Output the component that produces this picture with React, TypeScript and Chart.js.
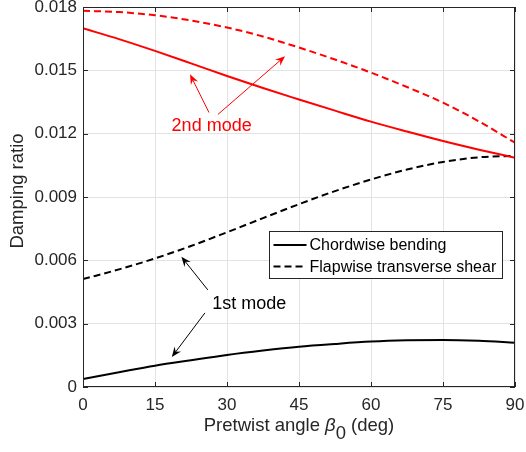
import React, { useEffect, useRef } from "react";
import { Chart, registerables } from "chart.js";

Chart.register(...registerables);

const angles = [0, 7.5, 15, 22.5, 30, 37.5, 45, 52.5, 60, 67.5, 75, 82.5, 90];
const chordwise2nd = [0.01699, 0.01648, 0.01592, 0.01533, 0.01473, 0.01416, 0.01362, 0.01309, 0.01257, 0.0121, 0.01165, 0.01124, 0.01086];
const flapwise2nd = [0.01782, 0.01776, 0.01761, 0.01736, 0.01703, 0.0166, 0.01608, 0.01551, 0.01489, 0.01421, 0.01347, 0.01258, 0.01157];
const flapwise1st = [0.00511, 0.00557, 0.00609, 0.00668, 0.00733, 0.008, 0.00866, 0.00928, 0.00983, 0.0103, 0.01066, 0.01088, 0.01095];
const chordwise1st = [0.00038, 0.0007, 0.00101, 0.00127, 0.00152, 0.00173, 0.00191, 0.00204, 0.00215, 0.00221, 0.00223, 0.00219, 0.0021];

const xTicks = [0, 15, 30, 45, 60, 75, 90];
const yTicks = [0, 0.003, 0.006, 0.009, 0.012, 0.015, 0.018];
const legendLabels = ["Chordwise bending", "Flapwise transverse shear"];

// annotation text and arrows in data coordinates
const mode2Label = { text: "2nd mode", x: 26.8, y: 0.01238 };
const mode2Arrows = [
  { x0: 26.25, y0: 0.0130, x1: 22.3, y1: 0.01481 },
  { x0: 28.1, y0: 0.01291, x1: 42.1, y1: 0.01567 },
];
const mode1Label = { text: "1st mode", x: 34.65, y: 0.00394 };
const mode1Arrows = [
  { x0: 26.0, y0: 0.0046, x1: 20.5, y1: 0.00617 },
  { x0: 25.4, y0: 0.00351, x1: 18.5, y1: 0.00142 },
];

const FONT = "'Liberation Sans', Arial, Helvetica, sans-serif";
const AXIS_COLOR = "#262626";

function toPts(ys: number[]) {
  return angles.map((x, i) => ({ x, y: ys[i] }));
}

function drawArrow(ctx: CanvasRenderingContext2D, x0: number, y0: number, x1: number, y1: number, color: string) {
  const ang = Math.atan2(y1 - y0, x1 - x0);
  const len = 10;
  const w = 4;
  ctx.save();
  ctx.strokeStyle = color;
  ctx.fillStyle = color;
  ctx.lineWidth = 1;
  ctx.beginPath();
  ctx.moveTo(x0, y0);
  ctx.lineTo(x1 - Math.cos(ang) * 4, y1 - Math.sin(ang) * 4);
  ctx.stroke();
  const bx = x1 - Math.cos(ang) * len;
  const by = y1 - Math.sin(ang) * len;
  const nx = -Math.sin(ang);
  const ny = Math.cos(ang);
  const mx = x1 - Math.cos(ang) * len * 0.65;
  const my = y1 - Math.sin(ang) * len * 0.65;
  ctx.beginPath();
  ctx.moveTo(x1, y1);
  ctx.lineTo(bx + nx * w, by + ny * w);
  ctx.lineTo(mx, my);
  ctx.lineTo(bx - nx * w, by - ny * w);
  ctx.closePath();
  ctx.fill();
  ctx.restore();
}

const overlayPlugin = {
  id: "overlay",
  afterDraw(chart: any) {
    const ctx: CanvasRenderingContext2D = chart.ctx;
    const { left, right, top, bottom } = chart.chartArea;
    const xs = chart.scales.x;
    const ys = chart.scales.y;
    ctx.save();
    // box
    ctx.strokeStyle = AXIS_COLOR;
    ctx.lineWidth = 1;
    ctx.strokeRect(Math.round(left) + 0.5, Math.round(top) + 0.5, Math.round(right - left) - 1, Math.round(bottom - top) - 1);
    // inward ticks
    const tl = 5;
    ctx.beginPath();
    xTicks.forEach((v) => {
      const px = Math.round(xs.getPixelForValue(v)) + 0.5;
      ctx.moveTo(px, bottom);
      ctx.lineTo(px, bottom - tl);
      ctx.moveTo(px, top);
      ctx.lineTo(px, top + tl);
    });
    yTicks.forEach((v) => {
      const py = Math.round(ys.getPixelForValue(v)) + 0.5;
      ctx.moveTo(left, py);
      ctx.lineTo(left + tl, py);
      ctx.moveTo(right, py);
      ctx.lineTo(right - tl, py);
    });
    ctx.stroke();

    // x title with italic beta and subscript
    const fs = 18.5;
    const p1 = "Pretwist angle ";
    const p2 = "\u03B2";
    const p3 = "0";
    const p4 = " (deg)";
    ctx.fillStyle = AXIS_COLOR;
    ctx.textBaseline = "alphabetic";
    ctx.textAlign = "left";
    ctx.font = `${fs}px ${FONT}`;
    const w1 = ctx.measureText(p1).width;
    const w4 = ctx.measureText(p4).width;
    ctx.font = `italic ${fs}px ${FONT}`;
    const w2 = ctx.measureText(p2).width;
    ctx.font = `${fs}px ${FONT}`;
    const w3 = ctx.measureText(p3).width;
    const total = w1 + w2 + w3 + w4;
    let cx = (left + right) / 2 - total / 2;
    const base = 431;
    ctx.font = `${fs}px ${FONT}`;
    ctx.fillText(p1, cx, base);
    cx += w1;
    ctx.font = `italic ${fs}px ${FONT}`;
    ctx.fillText(p2, cx, base);
    cx += w2;
    ctx.font = `${fs}px ${FONT}`;
    ctx.fillText(p3, cx, base + 8);
    cx += w3;
    ctx.fillText(p4, cx, base);

    // y title
    ctx.save();
    ctx.translate(23, 191);
    ctx.rotate(-Math.PI / 2);
    ctx.textAlign = "center";
    ctx.textBaseline = "alphabetic";
    ctx.font = `${fs}px ${FONT}`;
    ctx.fillText("Damping ratio", 0, 0);
    ctx.restore();

    // annotations
    ctx.font = `18px ${FONT}`;
    ctx.textAlign = "center";
    ctx.textBaseline = "middle";
    ctx.fillStyle = "#ff0000";
    ctx.fillText(mode2Label.text, xs.getPixelForValue(mode2Label.x), ys.getPixelForValue(mode2Label.y));
    mode2Arrows.forEach((a) =>
      drawArrow(ctx, xs.getPixelForValue(a.x0), ys.getPixelForValue(a.y0), xs.getPixelForValue(a.x1), ys.getPixelForValue(a.y1), "#ff0000")
    );
    ctx.fillStyle = "#000000";
    ctx.fillText(mode1Label.text, xs.getPixelForValue(mode1Label.x), ys.getPixelForValue(mode1Label.y));
    mode1Arrows.forEach((a) =>
      drawArrow(ctx, xs.getPixelForValue(a.x0), ys.getPixelForValue(a.y0), xs.getPixelForValue(a.x1), ys.getPixelForValue(a.y1), "#000000")
    );

    // legend
    const lx = 269.5, ly = 231.5, lw = 233, lh = 47;
    ctx.fillStyle = "#ffffff";
    ctx.fillRect(lx, ly, lw, lh);
    ctx.strokeStyle = AXIS_COLOR;
    ctx.lineWidth = 1;
    ctx.strokeRect(lx, ly, lw, lh);
    const rows = [ly + 13.5, ly + 35];
    ctx.strokeStyle = "#000000";
    ctx.lineWidth = 2;
    ctx.beginPath();
    ctx.moveTo(lx + 4, rows[0]);
    ctx.lineTo(lx + 37, rows[0]);
    ctx.stroke();
    ctx.setLineDash([7, 4]);
    ctx.beginPath();
    ctx.moveTo(lx + 4, rows[1]);
    ctx.lineTo(lx + 37, rows[1]);
    ctx.stroke();
    ctx.setLineDash([]);
    ctx.fillStyle = "#000000";
    ctx.font = `16px ${FONT}`;
    ctx.textAlign = "left";
    ctx.textBaseline = "middle";
    ctx.fillText(legendLabels[0], lx + 40, rows[0] + 1);
    ctx.fillText(legendLabels[1], lx + 40, rows[1] + 1);
    ctx.restore();
  },
};

export default function App() {
  const ref = useRef<HTMLCanvasElement | null>(null);
  useEffect(() => {
    document.body.style.margin = "0";
    const canvas = ref.current;
    if (!canvas) return;
    const common = { pointRadius: 0, borderWidth: 2, fill: false, cubicInterpolationMode: "monotone" as const };
    const chart = new Chart(canvas, {
      type: "line",
      data: {
        datasets: [
          { ...common, label: "Chordwise 2nd", data: toPts(chordwise2nd), borderColor: "#ff0000" },
          { ...common, label: "Flapwise 2nd", data: toPts(flapwise2nd), borderColor: "#ff0000", borderDash: [7, 4] },
          { ...common, label: legendLabels[1], data: toPts(flapwise1st), borderColor: "#000000", borderDash: [7, 4] },
          { ...common, label: legendLabels[0], data: toPts(chordwise1st), borderColor: "#000000" },
        ],
      },
      options: {
        animation: false,
        responsive: false,
        devicePixelRatio: 1,
        layout: { padding: { left: 0, right: 11, top: 7, bottom: 0 } },
        plugins: { legend: { display: false }, tooltip: { enabled: false } },
        scales: {
          x: {
            type: "linear",
            min: 0,
            max: 90,
            afterBuildTicks: (s: any) => {
              s.ticks = xTicks.map((v) => ({ value: v }));
            },
            afterFit: (s: any) => {
              s.height = 65;
              s.paddingLeft = 0;
              s.paddingRight = 0;
            },
            ticks: { color: AXIS_COLOR, font: { family: FONT, size: 17 }, padding: 8, maxRotation: 0, autoSkip: false },
            grid: { color: "#e3e3e3", drawTicks: false, lineWidth: 1 },
            border: { display: false },
          },
          y: {
            type: "linear",
            min: 0,
            max: 0.018,
            afterBuildTicks: (s: any) => {
              s.ticks = yTicks.map((v) => ({ value: v }));
            },
            afterFit: (s: any) => {
              s.width = 83;
              s.paddingTop = 0;
              s.paddingBottom = 0;
            },
            ticks: {
              color: AXIS_COLOR,
              font: { family: FONT, size: 17 },
              padding: 6,
              callback: (v: any) => (Number(v) === 0 ? "0" : Number(v).toFixed(3)),
            },
            grid: { color: "#e3e3e3", drawTicks: false, lineWidth: 1 },
            border: { display: false },
          },
        },
      },
      plugins: [overlayPlugin],
    });
    return () => chart.destroy();
  }, []);
  return (
    <div style={{ width: 526, height: 452 }}>
      <canvas ref={ref} width={526} height={452} style={{ width: 526, height: 452, display: "block" }} />
    </div>
  );
}
